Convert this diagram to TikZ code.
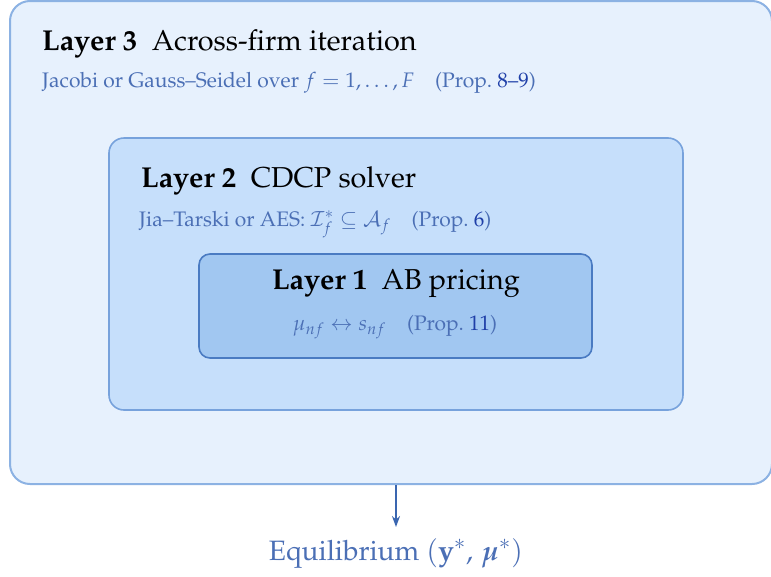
\documentclass[tikz,border=0pt]{standalone}
\usepackage[T1]{fontenc}
\usepackage{mathpazo}
\usepackage{amsmath,bm}
\usetikzlibrary{arrows.meta}
\definecolor{fillA}{HTML}{E7F1FD}
\definecolor{fillB}{HTML}{C6DFFB}
\definecolor{fillC}{HTML}{A1C7F1}
\definecolor{edgeA}{HTML}{8CB2E3}
\definecolor{edgeB}{HTML}{77A2DC}
\definecolor{edgeC}{HTML}{4A7BC2}
\definecolor{subtxt}{HTML}{4B6FB5}
\definecolor{linktxt}{HTML}{1F3FA8}
\definecolor{arrowc}{HTML}{3A66B0}
\newcommand{\lnk}[1]{\textcolor{linktxt}{#1}}
\tikzset{
  layerbox/.style={rectangle, inner sep=0pt},
  titletext/.style={inner sep=0pt, font=\fontsize{28.8}{34}\selectfont, text=black},
  subtext/.style={inner sep=0pt, font=\fontsize{21}{25}\selectfont, text=subtxt},
  eqtext/.style={inner sep=0pt, font=\fontsize{28}{34}\selectfont, text=subtxt},
  arr/.style={draw=arrowc, line width=2.5pt, -{Stealth[length=11pt,width=8pt]}},
}
\begin{document}
\begin{tikzpicture}[x=1pt,y=-1pt]
\useasboundingbox (0,0) rectangle (771,576);
\node[layerbox, fill=fillA, draw=edgeA, line width=2pt, rounded corners=20pt,
      minimum width=762pt, minimum height=483pt] (L3) at (391,242.5) {};
\node[layerbox, fill=fillB, draw=edgeB, line width=1.6pt, rounded corners=15pt,
      minimum width=574pt, minimum height=272pt] (L2) at (396,274) {};
\node[layerbox, fill=fillC, draw=edgeC, line width=1.6pt, rounded corners=11pt,
      minimum width=393pt, minimum height=104pt] (L1) at (395.5,306) {};
\node[titletext, anchor=base west] (t3) at (42,50) {\textbf{Layer 3}\enspace Across-firm iteration};
\node[subtext, anchor=base west] (s3) at (42,87) {Jacobi or Gauss--Seidel over $f=1,\dots,F$\quad(Prop.~\lnk{8--9})};
\node[titletext, anchor=base west] (t2) at (141,187) {\textbf{Layer 2}\enspace CDCP solver};
\node[subtext, anchor=base west] (s2) at (139,226) {Jia--Tarski or AES: $\mathcal{I}_f^{*}\subseteq\mathcal{A}_f$\quad(Prop.~\lnk{6})};
\node[titletext, anchor=base] (t1) at (396,289) {\textbf{Layer 1}\enspace AB pricing};
\node[subtext, anchor=base] (s1) at (395,330) {$\mu_{nf}\leftrightarrow s_{nf}$\quad(Prop.~\lnk{11})};
\node[eqtext, anchor=base] (eq) at (396,560) {Equilibrium $(\mathbf{y}^{*},\,\bm{\mu}^{*})$};
\coordinate (arrEnd) at (396,527);
\draw[arr] (L3.south -| arrEnd) -- (arrEnd);
\end{tikzpicture}
\end{document}
